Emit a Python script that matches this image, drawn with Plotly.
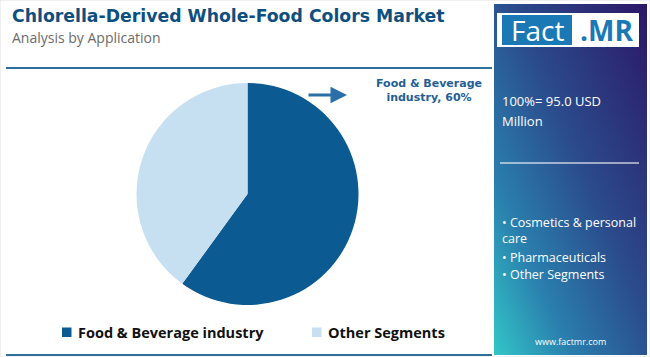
import base64
import plotly.graph_objects as go

# ---- data ----
categories = ["Food & Beverage industry", "Other Segments"]
shares = [60, 40]
colors = ["#0b5a91", "#c6e0f2"]
title_text = "Chlorella-Derived Whole-Food Colors Market"
subtitle_text = "Analysis by Application"
total_text = ["100%= 95.0 USD", "Million"]
other_items = ["• Cosmetics & personal", "care", "• Pharmaceuticals", "• Other Segments"]
callout_text = "Food & Beverage<br>industry, 60%"

W, H = 650, 357

def px(x):
    return x / W

def py(y):
    return 1 - y / H

fig = go.Figure()
fig.add_trace(go.Pie(
    labels=categories, values=shares,
    marker=dict(colors=colors, line=dict(width=0)),
    sort=False, direction="clockwise", rotation=0,
    textinfo="none", hoverinfo="label+percent",
    domain=dict(x=[px(136.5), px(358.5)], y=[py(305), py(83)]),
    showlegend=False,
))

svg = f'''<svg xmlns="http://www.w3.org/2000/svg" width="153" height="351" viewBox="0 0 153 351" preserveAspectRatio="none">
<defs><linearGradient id="g" x1="1" y1="0" x2="0" y2="1">
<stop offset="0" stop-color="#2c1767"/>
<stop offset="0.45" stop-color="#2b4c8c"/>
<stop offset="0.75" stop-color="#2a7fae"/>
<stop offset="1" stop-color="#33c6c8"/>
</linearGradient></defs>
<rect width="153" height="351" fill="url(#g)"/></svg>'''
src = "data:image/svg+xml;base64," + base64.b64encode(svg.encode()).decode()

shapes = [
    dict(type="rect", xref="paper", yref="paper", x0=0, x1=1, y0=0, y1=1,
         line=dict(color="#e2e2e2", width=1), fillcolor="rgba(0,0,0,0)", layer="below"),
    dict(type="line", xref="paper", yref="paper", x0=px(6), x1=px(492), y0=py(68), y1=py(68),
         line=dict(color="#2f6f9c", width=2)),
    dict(type="line", xref="paper", yref="paper", x0=px(6), x1=px(492), y0=py(355), y1=py(355),
         line=dict(color="#2f6f9c", width=2)),
    # logo
    dict(type="rect", xref="paper", yref="paper", x0=px(497), x1=px(639), y0=py(47), y1=py(13),
         fillcolor="white", line=dict(width=0)),
    dict(type="rect", xref="paper", yref="paper", x0=px(502), x1=px(572), y0=py(45), y1=py(15),
         fillcolor="#1a78b4", line=dict(width=0)),
    # panel divider
    dict(type="line", xref="paper", yref="paper", x0=px(500), x1=px(639), y0=py(163), y1=py(163),
         line=dict(color="rgba(255,255,255,0.55)", width=2)),
]

ann = []
def text(x, y, s, size, color, bold=False, anchor="left", family="Open Sans"):
    ann.append(dict(xref="paper", yref="paper", x=px(x), y=py(y), text=f"<b>{s}</b>" if bold else s,
                    showarrow=False, xanchor=anchor, yanchor="middle",
                    font=dict(size=size, color=color, family=family)))

# legend (manual, from categories/colors)
legend_x = [62, 312]
for lx, lab, col in zip(legend_x, categories, colors):
    shapes.append(dict(type="rect", xref="paper", yref="paper", x0=px(lx), x1=px(lx + 9.5),
                       y0=py(337), y1=py(327.5), fillcolor=col, line=dict(width=0)))
    text(lx + 14, 332, lab, 14.5, "#111111", bold=True)

text(10, 16, title_text, 17.3, "#0e4f7f", bold=True, family="DejaVu Sans")
text(10, 38, subtitle_text, 14, "#6b6b6b")
text(429, 90, callout_text, 11, "#1f5f96", bold=True, anchor="center", family="DejaVu Sans")
# logo text
ann.append(dict(xref="paper", yref="paper", x=px(537), y=py(30), text="Fact", showarrow=False,
                xanchor="center", yanchor="middle", font=dict(size=28, color="white", family="Open Sans")))
ann.append(dict(xref="paper", yref="paper", x=px(606), y=py(30), text="<b>.MR</b>", showarrow=False,
                xanchor="center", yanchor="middle", font=dict(size=28, color="#1a78b4", family="Open Sans")))
text(500, 101, total_text[0], 13, "white")
text(500, 121, total_text[1], 13, "white")
for yy, s in zip([222, 239, 257, 274], other_items):
    text(500, yy, s, 12.5, "white")
text(570, 341, "www.factmr.com", 9, "white", anchor="center")
# arrow
ann.append(dict(xref="paper", yref="paper", axref="pixel", ayref="pixel",
                x=px(347), y=py(95), ax=-40, ay=0, text="", showarrow=True,
                arrowhead=2, arrowsize=1.1, arrowwidth=3, arrowcolor="#2a6fa8"))

fig.update_layout(
    width=W, height=H, margin=dict(l=0, r=0, t=0, b=0),
    paper_bgcolor="white", plot_bgcolor="white",
    shapes=shapes, annotations=ann,
    images=[dict(source=src, xref="paper", yref="paper", x=px(494), y=py(4),
                 sizex=px(153), sizey=351 / H, xanchor="left", yanchor="top",
                 sizing="stretch", layer="below")],
)
fig.write_html("out.html", config={"displayModeBar": False},
               post_script="document.body.style.margin='0';document.body.style.overflow='hidden';")
